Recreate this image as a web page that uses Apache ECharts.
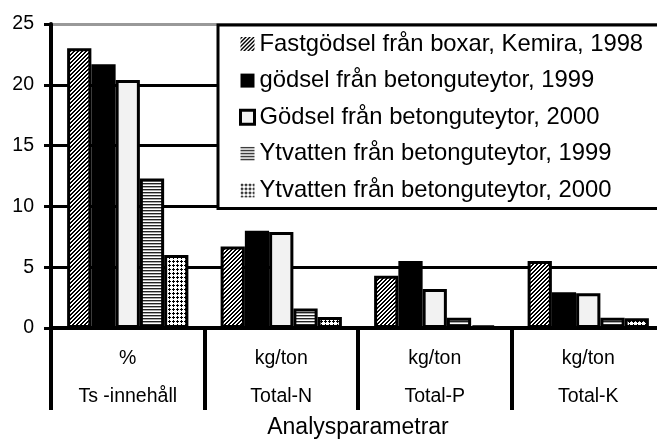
<!DOCTYPE html>
<html>
<head>
<meta charset="utf-8">
<script src="https://cdn.jsdelivr.net/npm/echarts@6/dist/echarts.min.js"></script>
<style>
  html, body { margin: 0; padding: 0; background: #fff; }
  #chart { width: 657px; height: 439px; }
</style>
</head>
<body>
<div id="chart"></div>
<script>
// Analysis parameters and their units
const categories = ['Ts -innehåll', 'Total-N', 'Total-P', 'Total-K'];
const units = ['%', 'kg/ton', 'kg/ton', 'kg/ton'];

// Series names
const seriesNames = [
  'Fastgödsel från boxar, Kemira, 1998',
  'gödsel från betonguteytor, 1999',
  'Gödsel från betonguteytor, 2000',
  'Ytvatten från betonguteytor, 1999',
  'Ytvatten från betonguteytor, 2000'
];

// Values per series (one per category)
const fastgodsel1998 = [23.0, 6.7, 4.3, 5.5];
const godsel1999 = [21.7, 8.0, 5.5, 2.95];
const godsel2000 = [20.4, 7.9, 3.2, 2.85];
const ytvatten1999 = [12.3, 1.6, 0.85, 0.85];
const ytvatten2000 = [6.0, 0.9, 0.2, 0.8];

// Value axis ticks
const yMin = 0, yMax = 25, yStep = 5;

const FONT = '"Liberation Sans", Arial, sans-serif';

// Build a small repeating tile from a pixel rule
function tile(w, h, bg, paint) {
  const c = document.createElement('canvas');
  c.width = w; c.height = h;
  const ctx = c.getContext('2d');
  ctx.fillStyle = bg;
  ctx.fillRect(0, 0, w, h);
  for (let y = 0; y < h; y++) {
    for (let x = 0; x < w; x++) {
      const col = paint(x, y);
      if (col) { ctx.fillStyle = col; ctx.fillRect(x, y, 1, 1); }
    }
  }
  return { image: c, repeat: 'repeat' };
}

const hatch = tile(4, 4, '#fff', (x, y) => ((x + y) % 4 < 2 ? '#000' : null));
const hstripes = tile(1, 3, '#fff', (x, y) => (y === 0 ? '#222' : y === 1 ? '#aaa' : null));
const dots = tile(4, 4, '#fff', (x, y) => {
  if ((x === 1 && y <= 2) || (y === 1 && x <= 2)) return '#000';
  return null;
});

const fills = [hatch, '#000', '#f2f2f2', hstripes, dots];
const values = [fastgodsel1998, godsel1999, godsel2000, ytvatten1999, ytvatten2000];

const series = values.map((v, i) => ({
  name: seriesNames[i],
  type: 'bar',
  data: v,
  barGap: '0%',
  barCategoryGap: '21%',
  itemStyle: { color: fills[i], borderColor: '#000', borderWidth: 3 },
  emphasis: { disabled: true }
}));

const chart = echarts.init(document.getElementById('chart'), null, { renderer: 'canvas' });
chart.setOption({
  animation: false,
  backgroundColor: '#fff',
  textStyle: { fontFamily: FONT },
  grid: {
    left: 51, top: 24, width: 614, height: 304,
    containLabel: false,
    outerBoundsMode: 'none'
  },
  legend: {
    orient: 'vertical',
    left: 218,
    top: 25,
    backgroundColor: '#fff',
    borderColor: '#000',
    borderWidth: 3,
    borderRadius: 0,
    padding: [7, 60, 6, 21],
    itemWidth: 14,
    itemHeight: 14,
    itemGap: 12.6,
    icon: 'rect',
    selectedMode: false,
    textStyle: { fontFamily: FONT, fontSize: 23.8, color: '#000', lineHeight: 24 },
    data: seriesNames.map((n, i) => ({
      name: n,
      itemStyle: i === 2 ? { borderColor: '#000', borderWidth: 3 } : { borderWidth: 0 }
    }))
  },
  xAxis: {
    type: 'category',
    data: categories,
    name: 'Analysparametrar',
    nameLocation: 'middle',
    nameGap: 88,
    nameMoveOverlap: false,
    nameTextStyle: { fontFamily: FONT, fontSize: 23, color: '#000' },
    axisLine: { lineStyle: { color: '#000', width: 4 } },
    axisTick: { show: true, length: 82, lineStyle: { color: '#000', width: 4 } },
    axisLabel: {
      margin: 12,
      fontFamily: FONT,
      fontSize: 19.5,
      color: '#000',
      lineHeight: 38,
      formatter: (val, idx) => units[idx] + '\n' + val
    }
  },
  yAxis: {
    type: 'value',
    min: yMin,
    max: yMax,
    interval: yStep,
    axisLine: { show: true, lineStyle: { color: '#000', width: 4 } },
    axisTick: { show: true, length: 7, lineStyle: { color: '#000', width: 3 } },
    axisLabel: { margin: 17, fontFamily: FONT, fontSize: 19.5, color: '#000' },
    splitLine: {
      show: true,
      lineStyle: { color: ['#000', '#000', '#000', '#000', '#000', '#999'], width: 3 }
    }
  },
  series: series
});
</script>
</body>
</html>
